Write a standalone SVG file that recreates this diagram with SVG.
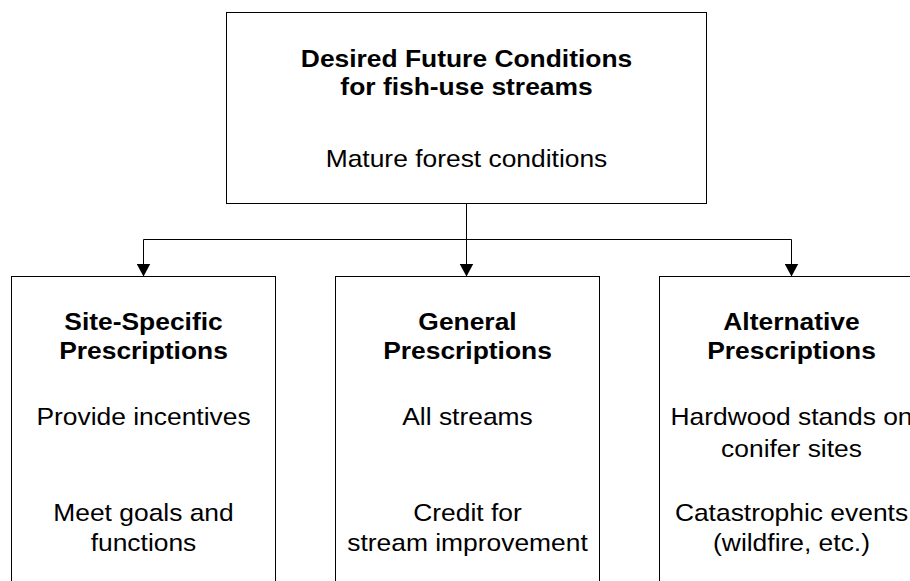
<svg xmlns="http://www.w3.org/2000/svg" width="910" height="581" viewBox="0 0 910 581">
  <style>
    .box { fill: #ffffff; stroke: #000000; stroke-width: 1; }
    .wire { fill: none; stroke: #000000; stroke-width: 1; }
    text { font-family: "Liberation Sans", Arial, sans-serif; font-size: 24px; fill: #000000; text-anchor: middle; }
    .head { font-weight: bold; }
  </style>
  <defs>
    <!-- solid triangular head, pointing along the path direction -->
    <marker id="arrow" viewBox="0 0 13 14" refX="13" refY="7" markerWidth="13" markerHeight="14" markerUnits="userSpaceOnUse" orient="auto">
      <path d="M0,0 L13,7 L0,14 Z" fill="#000000"/>
    </marker>
  </defs>
  <rect width="910" height="581" fill="#ffffff"/>

  <g id="connectors">
    <path class="wire" d="M466.5,203.5 V239.5"/>
    <path class="wire" d="M143.5,239.5 H791.5"/>
    <path class="wire" d="M143.5,239.5 V276.5" marker-end="url(#arrow)"/>
    <path class="wire" d="M466.5,239.5 V276.5" marker-end="url(#arrow)"/>
    <path class="wire" d="M791.5,239.5 V276.5" marker-end="url(#arrow)"/>
  </g>

  <g id="desired-future-conditions">
    <rect class="box" x="226.5" y="12.5" width="480" height="191"/>
    <g transform="translate(466.5 0) scale(1.1 1)">
      <text class="head" x="0" y="67">Desired Future Conditions</text>
      <text class="head" x="0" y="95">for fish-use streams</text>
      <text x="0" y="167">Mature forest conditions</text>
    </g>
  </g>

  <g id="site-specific">
    <rect class="box" x="11.5" y="276.5" width="264" height="330"/>
    <g transform="translate(143.5 0) scale(1.1 1)">
      <text class="head" x="0" y="330">Site-Specific</text>
      <text class="head" x="0" y="359">Prescriptions</text>
      <text x="0" y="425">Provide incentives</text>
      <text x="0" y="521">Meet goals and</text>
      <text x="0" y="551">functions</text>
    </g>
  </g>

  <g id="general">
    <rect class="box" x="335.5" y="276.5" width="264" height="330"/>
    <g transform="translate(467.5 0) scale(1.1 1)">
      <text class="head" x="0" y="330">General</text>
      <text class="head" x="0" y="359">Prescriptions</text>
      <text x="0" y="425">All streams</text>
      <text x="0" y="521">Credit for</text>
      <text x="0" y="551">stream improvement</text>
    </g>
  </g>

  <g id="alternative">
    <rect class="box" x="659.5" y="276.5" width="264" height="330"/>
    <g transform="translate(791.5 0) scale(1.1 1)">
      <text class="head" x="0" y="330">Alternative</text>
      <text class="head" x="0" y="359">Prescriptions</text>
      <text x="0" y="425">Hardwood stands on</text>
      <text x="0" y="457">conifer sites</text>
      <text x="0" y="521">Catastrophic events</text>
      <text x="0" y="551">(wildfire, etc.)</text>
    </g>
  </g>
</svg>
